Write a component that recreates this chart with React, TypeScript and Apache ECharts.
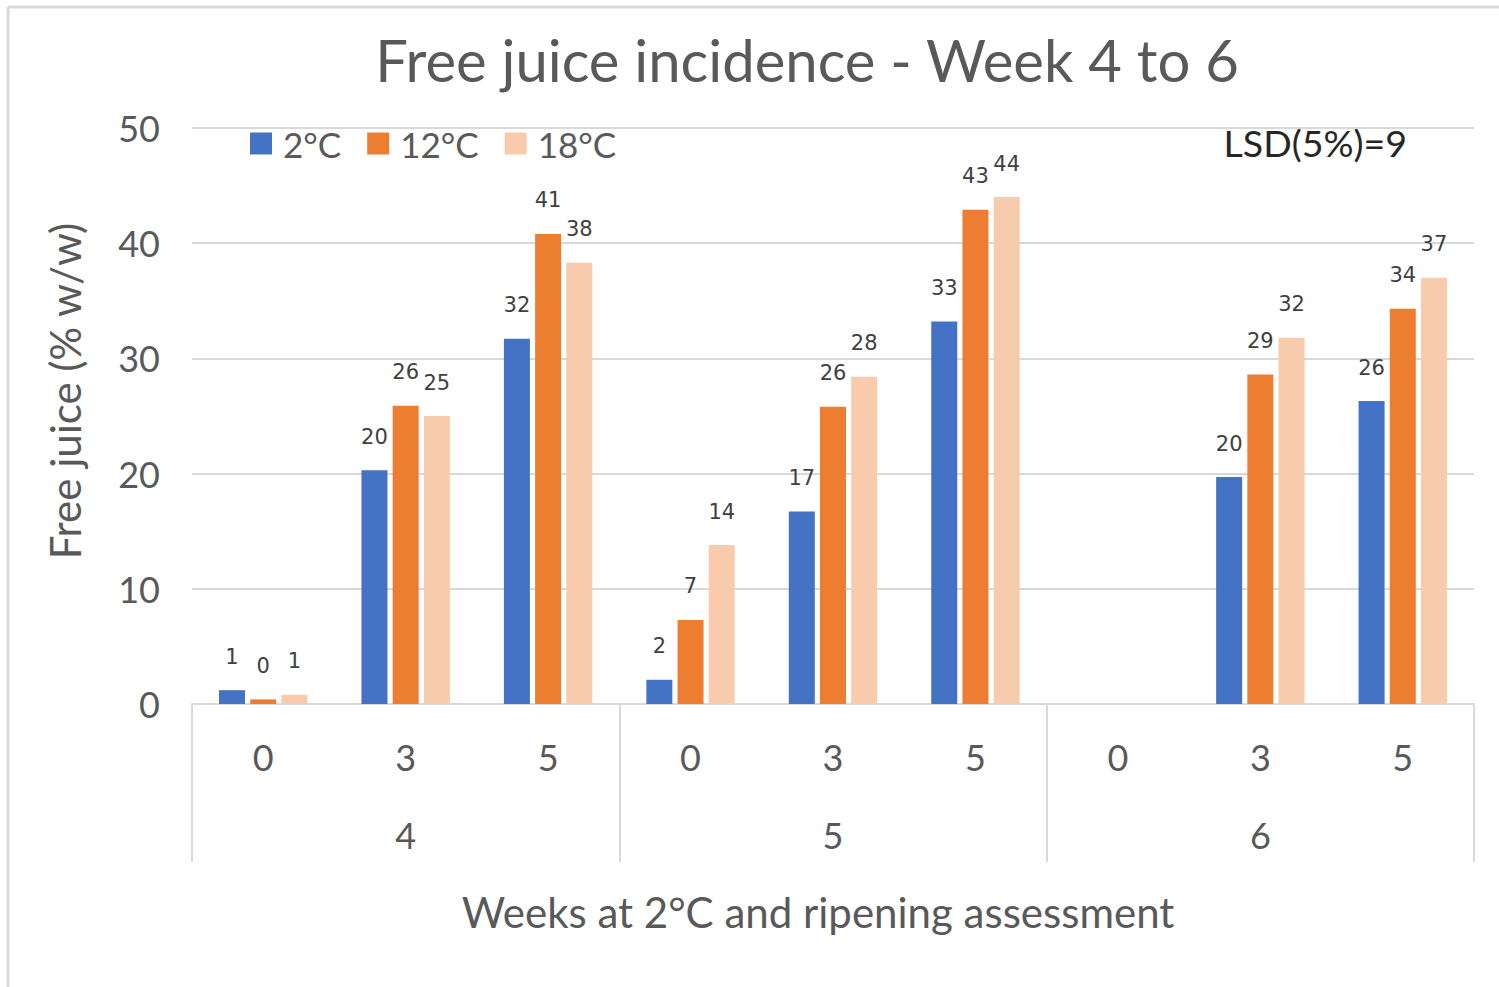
import React, { useEffect, useRef } from "react";
import * as echarts from "echarts";

const subCategories = ["0", "3", "5", "0", "3", "5", "0", "3", "5"];
const weekGroups = ["4", "5", "6"];
const seriesNames = ["2°C", "12°C", "18°C"];
const values2C = [1.2, 20.3, 31.7, 2.1, 16.7, 33.2, null, 19.7, 26.3];
const values12C = [0.4, 25.9, 40.8, 7.3, 25.8, 42.9, null, 28.6, 34.3];
const values18C = [0.8, 25.0, 38.3, 13.8, 28.4, 44.0, null, 31.8, 37.0];
const yTicks = { min: 0, max: 50, interval: 10 };
const annotation = "LSD(5%)=9";

const colors = ["#4472C4", "#ED7D31", "#F8CBAD"];
const FONT = "Lato, 'Open Sans', sans-serif";

export default function App() {
  const ref = useRef<HTMLDivElement>(null);
  useEffect(() => {
    if (!ref.current) return;
    const chart = echarts.init(ref.current, undefined, { renderer: "svg" });
    const allValues = [values2C, values12C, values18C];
    chart.setOption({
      animation: false,
      backgroundColor: "#ffffff",
      textStyle: { fontFamily: FONT },
      title: {
        text: "Free juice incidence - Week 4 to 6",
        left: 802,
        textAlign: "center",
        top: 25,
        textStyle: { fontFamily: FONT, fontSize: 58, fontWeight: "normal", color: "#595959" },
      },
      legend: {
        left: 245,
        top: 121,
        itemWidth: 22,
        itemHeight: 22,
        itemGap: 26,
        icon: "rect",
        data: seriesNames,
        textStyle: { fontFamily: FONT, fontSize: 35, color: "#595959", padding: [0, 0, 0, 6] },
      },
      grid: { left: 192, right: 25, top: 128, bottom: 283, containLabel: false },
      xAxis: [
        {
          type: "category",
          data: subCategories,
          position: "bottom",
          axisLine: { show: true, lineStyle: { color: "#d9d9d9", width: 2 } },
          axisTick: { show: false },
          axisLabel: { fontFamily: FONT, fontSize: 36, color: "#595959", margin: 35 },
          name: "Weeks at 2°C and ripening assessment",
          nameLocation: "middle",
          nameGap: 187,
          nameTextStyle: { fontFamily: FONT, fontSize: 42, color: "#595959", padding: [0, 30, 0, 0] },
        },
        {
          type: "category",
          data: weekGroups,
          position: "bottom",
          axisLine: { show: false },
          axisTick: { show: true, length: 158, interval: 0, lineStyle: { color: "#d9d9d9", width: 2 } },
          axisLabel: { fontFamily: FONT, fontSize: 36, color: "#595959", margin: 113 },
        },
      ],
      yAxis: {
        type: "value",
        min: yTicks.min,
        max: yTicks.max,
        interval: yTicks.interval,
        axisLine: { show: false },
        axisTick: { show: false },
        splitLine: { lineStyle: { color: "#d9d9d9", width: 2 } },
        axisLabel: { fontFamily: FONT, fontSize: 36, color: "#595959", margin: 32 },
        name: "Free juice (% w/w)",
        nameLocation: "middle",
        nameGap: 106,
        nameTextStyle: { fontFamily: FONT, fontSize: 42, color: "#595959", padding: [0, 0, 0, 50] },
      },
      graphic: [
        {
          type: "text",
          right: 92,
          top: 123,
          style: { text: annotation, fontFamily: FONT, fontSize: 37.5, fill: "#262626" },
        },
        { type: "line", shape: { x1: 8, y1: 7, x2: 1499, y2: 7 }, style: { stroke: "#d9d9d9", lineWidth: 3 } },
        { type: "line", shape: { x1: 8, y1: 7, x2: 8, y2: 987 }, style: { stroke: "#d9d9d9", lineWidth: 3 } },
      ],
      series: seriesNames.map((name, i) => ({
        name,
        type: "bar",
        xAxisIndex: 0,
        data: allValues[i],
        barWidth: 26,
        barGap: "20%",
        itemStyle: { color: colors[i] },
        label: {
          show: true,
          position: "top",
          distance: 23,
          fontFamily: "'DejaVu Sans', sans-serif",
          fontSize: 21,
          color: "#404040",
          formatter: (p: any) => (p.value == null ? "" : String(Math.round(p.value))),
        },
      })),
    });
    return () => chart.dispose();
  }, []);
  return <div ref={ref} style={{ width: 1499, height: 987, position: "absolute", left: 0, top: 0 }} />;
}
